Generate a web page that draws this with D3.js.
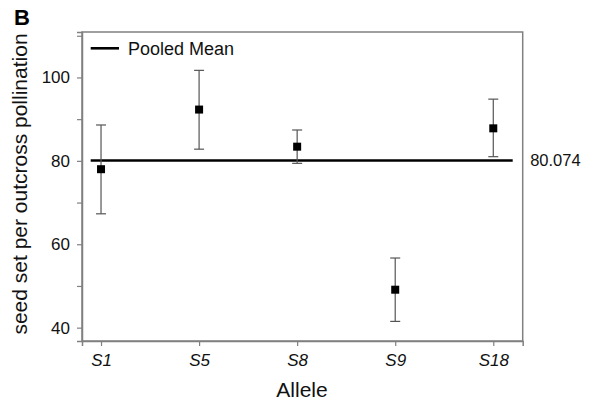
<!DOCTYPE html>
<html><head><meta charset="utf-8">
<script src="https://cdn.jsdelivr.net/npm/d3@7"></script>
<style>body{margin:0;background:#fff;} text{font-family:"Liberation Sans",Arial,sans-serif;}</style>
</head><body>
<svg id="c" width="592" height="400"></svg>
<script>
const categories = ["S1","S5","S8","S9","S18"];
const means = [78.0, 92.3, 83.4, 49.1, 87.8];
const upper = [88.6, 101.7, 87.4, 56.7, 94.8];
const lower = [67.3, 82.8, 79.4, 41.5, 81.0];
const pooledMean = 80.074;
const yTicks = [40,50,60,70,80,90,100,110];
const yLabels = [40,60,80,100];

const svg = d3.select("#c");
const L=82, R=522.7, T=32, B=341;
const x = d3.scaleLinear().domain([-0.194, 4.3]).range([L, R]);
const y = d3.scaleLinear().domain([36.8, 110.9]).range([B, T]);
const frameCol = "#808080";

// frame
svg.append("rect").attr("x",L).attr("y",T).attr("width",R-L).attr("height",B-T)
  .attr("fill","none").attr("stroke",frameCol).attr("stroke-width",1.5);

// y axis
const ya = svg.append("g").attr("transform",`translate(${L},0)`)
  .call(d3.axisLeft(y).tickValues(yTicks).tickSize(5).tickPadding(7)
    .tickFormat(d => yLabels.includes(d) ? d : ""));
ya.select(".domain").attr("stroke",frameCol).attr("stroke-width",1.5);
ya.selectAll(".tick line").attr("stroke",frameCol).attr("stroke-width",1.2);
ya.selectAll(".tick text").attr("font-size",17).attr("fill","#111")
  .attr("font-family","Liberation Sans, Arial, sans-serif");

// x axis
const xa = svg.append("g").attr("transform",`translate(0,${B})`)
  .call(d3.axisBottom(x).tickValues(d3.range(categories.length)).tickSize(5).tickPadding(8)
    .tickFormat(i => categories[i]));
xa.select(".domain").attr("stroke",frameCol).attr("stroke-width",1.5);
xa.selectAll(".tick line").attr("stroke",frameCol).attr("stroke-width",1.2);
xa.selectAll(".tick text").attr("font-size",17).attr("font-style","italic").attr("fill","#111")
  .attr("font-family","Liberation Sans, Arial, sans-serif");

// pooled mean line
svg.append("line").attr("x1",L+8.7).attr("x2",R-10).attr("y1",y(pooledMean)).attr("y2",y(pooledMean))
  .attr("stroke","#000").attr("stroke-width",2.6);
svg.append("text").attr("x",R+7.5).attr("y",y(pooledMean)).attr("dy","0.35em")
  .attr("font-size",16.5).attr("fill","#111").text(pooledMean.toFixed(3));

// error bars
const g = svg.append("g");
categories.forEach((c,i) => {
  const cx = x(i);
  g.append("line").attr("x1",cx).attr("x2",cx).attr("y1",y(upper[i])).attr("y2",y(lower[i]))
    .attr("stroke","#555").attr("stroke-width",1.2);
  [upper[i], lower[i]].forEach(v => {
    g.append("line").attr("x1",cx-5).attr("x2",cx+5).attr("y1",y(v)).attr("y2",y(v))
      .attr("stroke","#555").attr("stroke-width",1.2);
  });
  g.append("rect").attr("x",cx-4).attr("y",y(means[i])-4).attr("width",8).attr("height",8).attr("fill","#000");
});

// legend
svg.append("line").attr("x1",90.7).attr("x2",119).attr("y1",48.3).attr("y2",48.3)
  .attr("stroke","#000").attr("stroke-width",2.6);
svg.append("text").attr("x",128).attr("y",48.3).attr("dy","0.35em").attr("font-size",18)
  .attr("fill","#111").text("Pooled Mean");

// axis titles
svg.append("text").attr("transform",`translate(27,${(30+338)/2}) rotate(-90)`)
  .attr("text-anchor","middle").attr("font-size",21).attr("fill","#111")
  .text("seed set per outcross pollination");
svg.append("text").attr("x",302).attr("y",396.5).attr("text-anchor","middle")
  .attr("font-size",21).attr("fill","#111").text("Allele");

// panel letter
svg.append("text").attr("x",14).attr("y",25).attr("font-size",22).attr("font-weight","bold")
  .attr("fill","#000").text("B");
</script>
</body></html>
